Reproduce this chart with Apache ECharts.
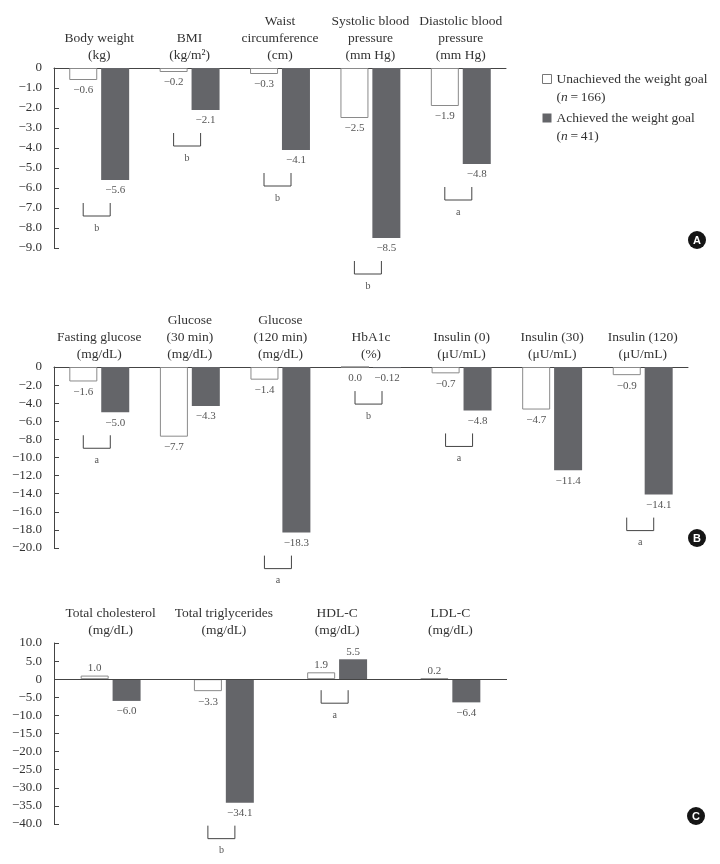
<!DOCTYPE html>
<html>
<head>
<meta charset="utf-8">
<script src="https://cdn.jsdelivr.net/npm/echarts@6/dist/echarts.min.js"></script>
<style>html,body{margin:0;padding:0;background:#fff;}#chart{width:720px;height:864px;}</style>
</head>
<body>
<div id="chart"></div>
<script>
// ---- Data ----
const seriesNames = ['Unachieved the weight goal', 'Achieved the weight goal'];
const seriesN = ['166', '41'];

const catsA = ['Body weight\n(kg)', 'BMI\n(kg/m²)', 'Waist\ncircumference\n(cm)', 'Systolic blood\npressure\n(mm Hg)', 'Diastolic blood\npressure\n(mm Hg)'];
const unA = [-0.6, -0.2, -0.3, -2.5, -1.9];
const achA = [-5.6, -2.1, -4.1, -8.5, -4.8];
const sigA = ['b', 'b', 'b', 'b', 'a'];
const rangeA = [-9, 0, 1];

const catsB = ['Fasting glucose\n(mg/dL)', 'Glucose\n(30 min)\n(mg/dL)', 'Glucose\n(120 min)\n(mg/dL)', 'HbA1c\n(%)', 'Insulin (0)\n(μU/mL)', 'Insulin (30)\n(μU/mL)', 'Insulin (120)\n(μU/mL)'];
const unB = [-1.6, -7.7, -1.4, 0.0, -0.7, -4.7, -0.9];
const achB = [-5.0, -4.3, -18.3, -0.12, -4.8, -11.4, -14.1];
const sigB = ['a', '', 'a', 'b', 'a', '', 'a'];
const rangeB = [-20, 0, 2];

const catsC = ['Total cholesterol\n(mg/dL)', 'Total triglycerides\n(mg/dL)', 'HDL-C\n(mg/dL)', 'LDL-C\n(mg/dL)'];
const unC = [1.0, -3.3, 1.9, 0.2];
const achC = [-6.0, -34.1, 5.5, -6.4];
const sigC = ['', 'b', 'a', ''];
const rangeC = [-40, 10, 5];

const panelLetters = ['A', 'B', 'C'];

// ---- Styles ----
const FONT = "'Liberation Serif', 'Times New Roman', serif";
const TEXT = '#333';
const LABEL = '#555';
const AXIS = '#444';
const DARK = '#646569';

function fmtVal(v) {
  let s = String(Math.abs(v));
  if (s.indexOf('.') < 0) s += '.0';
  return (v < 0 ? '\u2212' : '') + s;
}
function fmtTick(v) {
  if (v === 0) return '0';
  return (v < 0 ? '\u2212' : '') + Math.abs(v).toFixed(1);
}

const grids = [
  { left: 54, top: 68, width: 452, height: 180 },
  { left: 54, top: 367, width: 634, height: 181 },
  { left: 54, top: 643, width: 453, height: 181 }
];
const cats = [catsA, catsB, catsC];
const ranges = [rangeA, rangeB, rangeC];
const uns = [unA, unB, unC];
const achs = [achA, achB, achC];
const sigs = [sigA, sigB, sigC];

const xAxes = cats.map((c, i) => ({
  type: 'category', gridIndex: i, data: c, position: 'top',
  axisLine: { show: i !== 2, onZero: false, lineStyle: { color: AXIS, width: 1 } },
  axisTick: { show: false },
  axisLabel: { interval: 0, margin: 4, fontFamily: FONT, fontSize: 13.5, lineHeight: 17, color: TEXT }
}));
const yAxes = ranges.map((r, i) => ({
  type: 'value', gridIndex: i, min: r[0], max: r[1], interval: r[2],
  axisLine: { show: true, lineStyle: { color: AXIS, width: 1 } },
  axisTick: { show: true, inside: true, length: 5, lineStyle: { color: AXIS } },
  splitLine: { show: false },
  axisLabel: { margin: 12, fontFamily: FONT, fontSize: 13, color: TEXT, formatter: fmtTick }
}));

function barSeries(gi, name, vals, color, border, withZeroLine) {
  const s = {
    type: 'bar', name: name, xAxisIndex: gi, yAxisIndex: gi,
    barWidth: 28, barGap: '14%',
    itemStyle: { color: color, borderColor: border || color, borderWidth: border ? 1 : 0 },
    label: { show: true, fontFamily: FONT, fontSize: 11, color: LABEL, formatter: p => fmtVal(p.value) },
    data: vals.map(v => ({ value: v, label: { position: v > 0 ? 'top' : 'bottom', distance: v > 0 ? 2 : 5 } }))
  };
  if (withZeroLine) {
    s.markLine = { silent: true, symbol: 'none', label: { show: false },
      lineStyle: { color: AXIS, width: 1, type: 'solid' }, data: [{ yAxis: 0 }] };
  }
  return s;
}

function bracketSeries(gi) {
  const sig = sigs[gi], un = uns[gi], ach = achs[gi];
  const data = [];
  sig.forEach((s, i) => { if (s) data.push([i, Math.min(0, un[i], ach[i])]); });
  return {
    type: 'custom', name: 'sig' + gi, xAxisIndex: gi, yAxisIndex: gi, clip: false, silent: true, z: 5,
    data: data,
    renderItem: function (params, api) {
      const i = api.value(0), v = api.value(1);
      const p = api.coord([i, v]);
      const top = p[1] + (v < 0 ? 23 : 11);
      const h = 13, x0 = p[0] - 16, x1 = p[0] + 11;
      return { type: 'group', children: [
        { type: 'polyline', shape: { points: [[x0, top], [x0, top + h], [x1, top + h], [x1, top]] },
          style: { stroke: AXIS, lineWidth: 1, fill: null } },
        { type: 'text', style: { text: sig[i], x: (x0 + x1) / 2, y: top + h + 12, align: 'center', verticalAlign: 'middle',
          fill: LABEL, font: '10px ' + FONT } }
      ] };
    }
  };
}

const series = [];
for (let g = 0; g < 3; g++) {
  series.push(barSeries(g, seriesNames[0], uns[g], '#ffffff', '#8a8a8a', g === 2));
  series.push(barSeries(g, seriesNames[1], achs[g], DARK, null, false));
  series.push(bracketSeries(g));
}

const letterPos = [[697, 240], [697, 538], [696, 816]];
const graphics = [];
panelLetters.forEach((L, i) => {
  graphics.push({ type: 'circle', shape: { cx: letterPos[i][0], cy: letterPos[i][1], r: 9 }, style: { fill: '#151515' } });
  graphics.push({ type: 'text', style: { text: L, x: letterPos[i][0], y: letterPos[i][1] + 0.5, align: 'center', verticalAlign: 'middle',
    fill: '#fff', font: 'bold 11px Liberation Sans, Arial, sans-serif' } });
});

const option = {
  animation: false,
  backgroundColor: '#fff',
  grid: grids,
  xAxis: xAxes,
  yAxis: yAxes,
  legend: {
    show: true, orient: 'vertical', left: 542, top: 52, padding: 0,
    itemWidth: 9, itemHeight: 9, itemGap: -15, icon: 'rect',
    data: [
      { name: seriesNames[0], itemStyle: { color: '#fff', borderColor: '#777', borderWidth: 1 } },
      { name: seriesNames[1], itemStyle: { color: DARK, borderWidth: 0 } }
    ],
    formatter: function (name) {
      const idx = seriesNames.indexOf(name);
      return name + '\n({i|n}\u2009=\u2009' + seriesN[idx] + ')';
    },
    textStyle: { fontFamily: FONT, fontSize: 13.5, color: TEXT, lineHeight: 18, padding: [18, 0, 0, 0],
      rich: { i: { fontFamily: FONT, fontSize: 13.5, fontStyle: 'italic', color: TEXT, lineHeight: 18 } } }
  },
  graphic: graphics,
  series: series
};

const chart = echarts.init(document.getElementById('chart'), null, { renderer: 'canvas' });
chart.setOption(option);
</script>
</body>
</html>
